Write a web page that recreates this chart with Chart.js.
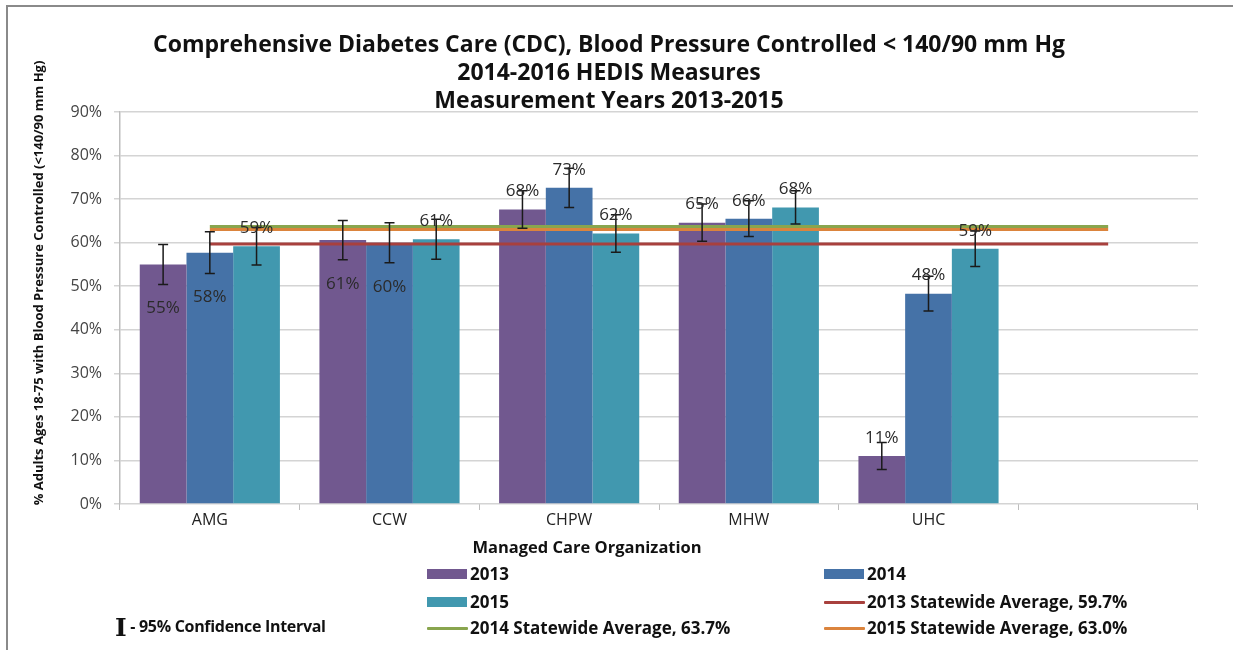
<!DOCTYPE html>
<html>
<head>
<meta charset="utf-8">
<script src="https://cdn.jsdelivr.net/npm/chart.js@4"></script>
<style>
  html, body { margin: 0; padding: 0; background: #fff; }
  #wrap { position: relative; width: 1233px; height: 650px; font-family: "Open Sans", sans-serif; }
  #frame { position: absolute; left: 6px; top: 5px; width: 1240px; height: 660px; border: 2px solid #8a8a8a; box-sizing: border-box; }
  canvas { position: absolute; left: 0; top: 0; }
  .leg { position: absolute; font-weight: bold; font-size: 17px; color: #111; white-space: nowrap; line-height: 20px; }
  .sw { position: absolute; }
</style>
</head>
<body>
<div id="wrap">
  <div id="frame"></div>
  <canvas id="myChart" width="1233" height="650"></canvas>
  <div id="legend"></div>
</div>
<script>
// categories (last slot is empty, as in the original sheet)
const orgs = ['AMG', 'CCW', 'CHPW', 'MHW', 'UHC', ''];

// rates in %
const rate2013 = [55.0, 60.6, 67.6, 64.6, 11.0];
const rate2014 = [57.7, 60.0, 72.6, 65.5, 48.3];
const rate2015 = [59.2, 60.8, 62.1, 68.1, 58.6];

// half-width of the 95% confidence interval, in % points
const ci2013 = [4.6, 4.5, 4.3, 4.3, 3.1];
const ci2014 = [4.8, 4.6, 4.5, 4.1, 4.0];
const ci2015 = [4.3, 4.6, 4.3, 3.8, 4.1];

// statewide averages
const avg2013 = 59.7;
const avg2014 = 63.7;
const avg2015 = 63.0;

const yTicks = [0, 10, 20, 30, 40, 50, 60, 70, 80, 90];

const xTitle = 'Managed Care Organization';
const yTitle = '% Adults Ages 18-75 with Blood Pressure Controlled (<140/90 mm Hg)';

const purple = '#71588F';
const blue = '#4572A7';
const teal = '#4198AF';
const red = '#A8403D';
const green = '#89A54E';
const orange = '#DB843D';

const errs = [ci2013, ci2014, ci2015];
// labels Excel had moved down inside the bar: dataset-index
const insideLabels = ['0-0', '1-0', '0-1', '1-1'];

const flat = v => orgs.map(() => v);

const extras = {
    id: 'extras',
    afterDatasetsDraw(chart) {
        const c = chart.ctx;
        const y = chart.scales.y;
        c.save();
        // error bars
        c.strokeStyle = '#1a1a1a';
        c.lineWidth = 1.5;
        for (let d = 0; d < 3; d++) {
            const meta = chart.getDatasetMeta(d);
            const vals = chart.data.datasets[d].data;
            meta.data.forEach((bar, i) => {
                if (vals[i] == null) return;
                const top = y.getPixelForValue(vals[i] + errs[d][i]);
                const bot = y.getPixelForValue(vals[i] - errs[d][i]);
                c.beginPath();
                c.moveTo(bar.x, top); c.lineTo(bar.x, bot);
                c.moveTo(bar.x - 5, top); c.lineTo(bar.x + 5, top);
                c.moveTo(bar.x - 5, bot); c.lineTo(bar.x + 5, bot);
                c.stroke();
            });
        }
        // data labels
        c.fillStyle = '#2b2b2b';
        c.font = '17px "Open Sans"';
        c.textAlign = 'center';
        c.textBaseline = 'middle';
        for (let d = 0; d < 3; d++) {
            const meta = chart.getDatasetMeta(d);
            const vals = chart.data.datasets[d].data;
            meta.data.forEach((bar, i) => {
                if (vals[i] == null) return;
                const inside = insideLabels.includes(d + '-' + i);
                c.fillText(Math.round(vals[i]) + '%', bar.x, bar.y + (inside ? 44 : -18));
            });
        }
        c.restore();
    },
    afterDraw(chart) {
        // axis titles, placed where the original had them
        const c = chart.ctx;
        c.save();
        c.fillStyle = '#111';
        c.textAlign = 'center';
        c.textBaseline = 'middle';
        c.font = 'bold 16.5px "Open Sans"';
        c.fillText(xTitle, 587, 548);
        c.translate(39, 283);
        c.rotate(-Math.PI / 2);
        c.font = 'bold 13px "Open Sans"';
        c.fillText(yTitle, 0, 0);
        c.restore();
    }
};

const ctx = document.getElementById('myChart').getContext('2d');
const myChart = new Chart(ctx, {
    type: 'bar',
    data: {
        labels: orgs,
        datasets: [
            { label: '2013', data: rate2013, backgroundColor: purple, order: 1 },
            { label: '2014', data: rate2014, backgroundColor: blue, order: 1 },
            { label: '2015', data: rate2015, backgroundColor: teal, order: 1 },
            { type: 'line', label: '2013 Statewide Average, ' + avg2013.toFixed(1) + '%', data: flat(avg2013),
              borderColor: red, borderWidth: 3, pointRadius: 0, order: 0 },
            { type: 'line', label: '2014 Statewide Average, ' + avg2014.toFixed(1) + '%', data: flat(avg2014),
              borderColor: green, borderWidth: 3, pointRadius: 0, order: 0 },
            { type: 'line', label: '2015 Statewide Average, ' + avg2015.toFixed(1) + '%', data: flat(avg2015),
              borderColor: orange, borderWidth: 3, pointRadius: 0, order: 0 }
        ]
    },
    options: {
        responsive: false,
        animation: false,
        layout: { padding: { left: 20, right: 35, top: 12, bottom: 86 } },
        categoryPercentage: 0.78,
        barPercentage: 1,
        scales: {
            x: {
                grid: { offset: true, drawOnChartArea: false, color: '#bdbdbd', tickLength: 6 },
                border: { display: false },
                ticks: { color: '#222', font: { family: 'Open Sans', size: 16 }, padding: 1 },
                afterFit: s => { s.height = 60; }
            },
            y: {
                min: 0, max: 90,
                afterBuildTicks: s => { s.ticks = yTicks.map(v => ({ value: v })); },
                grid: { color: '#d4d4d4', lineWidth: 1.5, tickLength: 6 },
                border: { color: '#bdbdbd', width: 1.5 },
                ticks: { color: '#444', font: { family: 'Open Sans', size: 16 }, padding: 12, callback: v => v + '%' },
                afterFit: s => { s.width = 100; }
            }
        },
        plugins: {
            title: {
                display: true,
                text: ['Comprehensive Diabetes Care (CDC), Blood Pressure Controlled < 140/90 mm Hg',
                       '2014-2016 HEDIS Measures', 'Measurement Years 2013-2015'],
                color: '#111',
                font: { family: 'Open Sans', size: 23, weight: 'bold', lineHeight: '28px' },
                padding: { top: 19, bottom: -3 }
            },
            legend: { display: false },
            tooltip: { enabled: false }
        }
    },
    plugins: [extras]
});

// two-column legend below the chart, built from the datasets
const legendPos = [[427, 574], [824, 574], [427, 602], [824, 602], [427, 628], [824, 628]];
const legendBox = document.getElementById('legend');
myChart.data.datasets.forEach((ds, i) => {
    const [lx, ly] = legendPos[i];
    const sw = document.createElement('div');
    sw.className = 'sw';
    if (ds.type === 'line') {
        sw.style.cssText = `left:${lx}px;top:${ly - 1}px;width:41px;height:3px;background:${ds.borderColor};border-radius:1px;`;
    } else {
        sw.style.cssText = `left:${lx}px;top:${ly - 5}px;width:40px;height:10px;background:${ds.backgroundColor};`;
    }
    legendBox.appendChild(sw);
    const t = document.createElement('div');
    t.className = 'leg';
    t.style.left = (lx + 43) + 'px';
    t.style.top = (ly - 10) + 'px';
    t.textContent = ds.label;
    legendBox.appendChild(t);
});

// confidence interval note
const ci = document.createElement('div');
ci.className = 'leg';
ci.style.cssText = 'left:115px;top:613px;font-size:16px;line-height:26px;letter-spacing:-0.3px;';
ci.innerHTML = '<span style="font-family:\'DejaVu Serif\';font-weight:bold;font-size:25px;vertical-align:middle;">I</span> - 95% Confidence Interval';
legendBox.appendChild(ci);
</script>
</body>
</html>
